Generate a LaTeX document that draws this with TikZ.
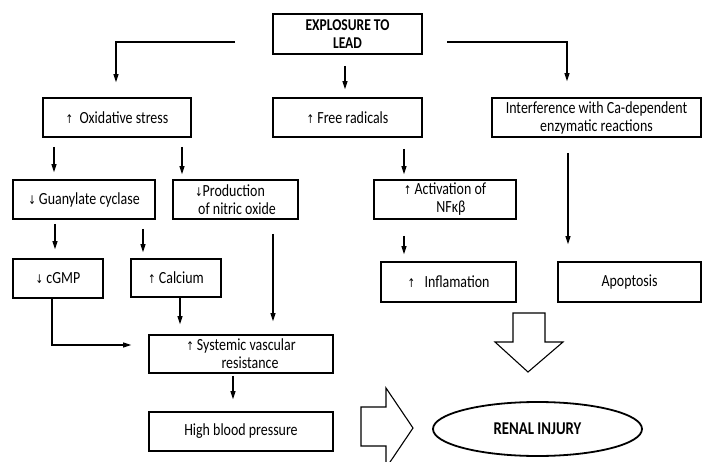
\documentclass[tikz,border=0pt]{standalone}
\usepackage{fontspec}
\setmainfont{Carlito}[FakeStretch=0.82]
\newfontfamily\arrfont{DejaVu Sans}[FakeStretch=0.75]
\newcommand\uarr{{\arrfont\fontsize{12}{12}\selectfont ↑}}
\newcommand\darr{{\arrfont\fontsize{12}{12}\selectfont ↓}}
\usetikzlibrary{arrows.meta,shapes.geometric}
\begin{document}
\begin{tikzpicture}[x=1pt,y=-1pt,
  box/.style={draw,line width=1.6pt,inner sep=0pt,align=center,font=\fontsize{17}{18}\selectfont},
  arr/.style={line width=1.1pt,-{Triangle[length=8pt,width=5pt]}},
  blk/.style={draw,line width=1.1pt,fill=white}]
\useasboundingbox (0,0) rectangle (703,462);
% boxes
\node[box,minimum width=149pt,minimum height=40pt,font=\bfseries\fontsize{16.5}{17.5}\selectfont] (lead) at (347.5,34) {EXPLOSURE TO\\LEAD};
\node[box,minimum width=148pt,minimum height=39pt] (ox) at (117,117.5) {\uarr\ \ Oxidative stress};
\node[box,minimum width=149pt,minimum height=39pt] (fr) at (347.5,117.5) {\uarr\ Free radicals};
\node[box,minimum width=209pt,minimum height=39pt] (intf) at (596.5,117.5) {Interference with Ca-dependent\\enzymatic reactions};
\node[box,minimum width=142pt,minimum height=39pt] (gc) at (84,199.5) {\darr\ Guanylate cyclase};
\node[box,minimum width=125pt,minimum height=39pt,align=left] (pno) at (235.5,199.5) {\darr Production\\\hspace{3pt}of nitric oxide};
\node[box,minimum width=142pt,minimum height=39pt] (act) at (445,199.5) {\uarr\ Activation of\\\hspace{12pt}NFκβ};
\node[box,minimum width=90pt,minimum height=39pt] (cgmp) at (58,278.5) {\darr\ cGMP};
\node[box,minimum width=90pt,minimum height=38pt] (ca) at (176,278) {\uarr\ Calcium};
\node[box,minimum width=135pt,minimum height=40pt] (infl) at (448.5,282) {\uarr\ \ \ Inflamation};
\node[box,minimum width=143pt,minimum height=40pt] (apo) at (629.5,282) {Apoptosis};
\node[box,minimum width=184pt,minimum height=38pt] (svr) at (241,354) {\uarr\ Systemic vascular\\\hspace{18pt}resistance};
\node[box,minimum width=184pt,minimum height=39pt] (hbp) at (241,431.5) {High blood pressure};
\node[ellipse,draw,line width=1.8pt,minimum width=209pt,minimum height=54pt,inner sep=0pt,font=\bfseries\fontsize{18}{18}\selectfont] (renal) at (537.5,429) {RENAL INJURY};
% connectors
\coordinate (l1) at (235,42);
\coordinate (r1) at (447,42);
\draw[arr,shorten >=15pt] (l1) -| (ox.north -| 116,0);
\draw[arr,shorten >=16pt] (r1) -| (intf.north -| 567,0);
\draw[arr,shorten <=11pt,shorten >=8pt] (lead.south -| 345,0) -- (fr.north -| 345,0);
\draw[arr,shorten <=9pt,shorten >=7pt] (ox.south -| 54,0) -- (gc.north -| 54,0);
\draw[arr,shorten <=9pt,shorten >=5pt] (ox.south -| 182,0) -- (pno.north -| 182,0);
\draw[arr,shorten <=11pt,shorten >=5pt] (fr.south -| 404,0) -- (act.north -| 404,0);
\draw[arr,shorten <=4pt,shorten >=9pt] (gc.south -| 55,0) -- (cgmp.north -| 55,0);
\draw[arr,shorten <=9pt,shorten >=6pt] (gc.south -| 143,0) -- (ca.north -| 143,0);
\draw[arr,shorten <=16pt,shorten >=7pt] (act.south -| 404,0) -- (infl.north -| 404,0);
\draw[arr,shorten <=15pt,shorten >=17pt] (intf.south -| 568,0) -- (apo.north -| 568,0);
\draw[arr,shorten <=14pt,shorten >=13pt] (pno.south -| 273,0) -- (svr.north -| 273,0);
\draw[arr,shorten >=10pt] (ca.south -| 180,0) -- (svr.north -| 180,0);
\draw[arr,shorten >=17pt] (cgmp.south -| 52,0) |- (svr.west |- 0,345);
\draw[arr,shorten <=2pt,shorten >=12pt] (svr.south -| 233,0) -- (hbp.north -| 233,0);
% block arrows
\draw[blk] (513,313) -- (545,313) -- (545,342) -- (563,342) -- (528,372) -- (495,342) -- (513,342) -- cycle;
\draw[blk] (361,407) -- (386,407) -- (386,388) -- (413,428) -- (386,468) -- (386,446) -- (361,446) -- cycle;
\end{tikzpicture}
\end{document}
